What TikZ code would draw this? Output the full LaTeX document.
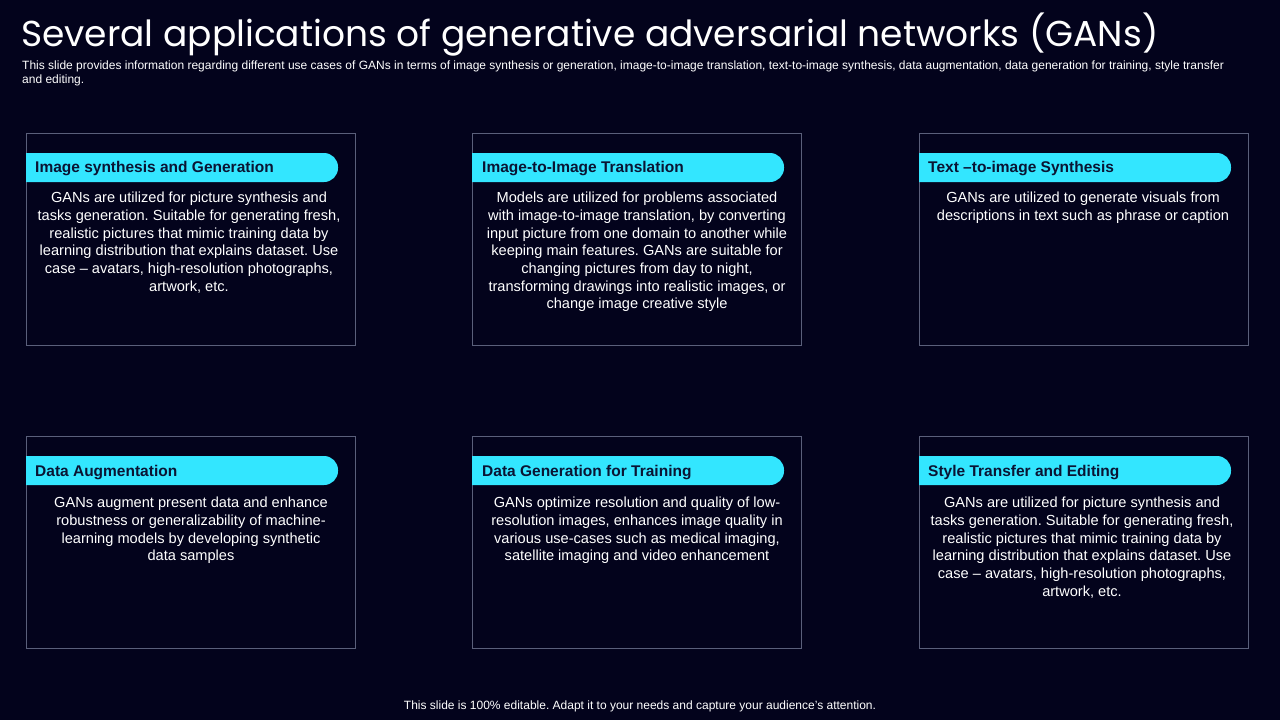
\documentclass[tikz,border=0pt]{standalone}
\usepackage{fontspec}
\setmainfont{Liberation Sans}
\newfontfamily\titlefont{Poppins}
\definecolor{bg}{HTML}{03031C}
\definecolor{cyanp}{HTML}{33E6FF}
\definecolor{boxline}{HTML}{5A5F7A}
\definecolor{navy}{HTML}{0A1433}
\frenchspacing
\begin{document}
\begin{tikzpicture}[x=1pt,y=-1pt,
  card/.style={draw=boxline,line width=0.8pt},
  pill/.style={fill=cyanp,rounded corners=14pt},
  head/.style={anchor=west,text=navy,font=\bfseries\fontsize{15.5}{18}\selectfont,inner sep=0pt},
  body/.style={anchor=north,align=center,text=white,font=\fontsize{14.6}{17.7}\selectfont,inner sep=0pt}]
\fill[bg] (0,0) rectangle (1280,720);
\useasboundingbox (0,0) rectangle (1280,720);
\node[anchor=west,text=white,font=\titlefont\fontsize{36}{40}\selectfont,inner sep=0pt] (title) at (21,35) {Several applications of generative adversarial networks (GANs)};
\node[anchor=north west,text=white,align=left,font=\fontsize{12}{14}\selectfont,inner sep=0pt] (sub) at (22,61) {This slide provides information regarding different use cases of GANs in terms of image synthesis or generation, image-to-image translation, text-to-image synthesis, data augmentation, data generation for training, style transfer\\and editing.};
\foreach \x/\y/\n in {26/133/a,472/133/b,919/133/c,26/436/d,472/436/e,919/436/f}{
  \draw[card] (\x,\y) rectangle ++(329,212);
  \fill[pill] (\x,\y+20) -- ++(-14,0) -- ++(0,29) -- ++(326,0) -- ++(0,-29) -- cycle;
  \fill[bg] (\x-15,\y+19) rectangle (\x-0.4,\y+50);
}
\node[head] (ha) at (35,169) {Image synthesis  and Generation};
\node[head] (hb) at (482,169) {Image-to-Image Translation};
\node[head] (hc) at (928,169) {Text –to-image Synthesis};
\node[head] (hd) at (35,473) {Data Augmentation};
\node[head] (he) at (482,473) {Data Generation for Training};
\node[head] (hf) at (928,473) {Style Transfer and Editing};
\node[body] (ba) at (189,192) {GANs are utilized for picture synthesis and\\tasks generation. Suitable for generating fresh,\\realistic pictures that mimic training data by\\learning distribution that explains dataset. Use\\case – avatars, high-resolution photographs,\\artwork, etc.};
\node[body] (bb) at (637,192) {Models are utilized for problems associated\\with image-to-image translation, by converting\\input picture from one domain to another while\\keeping main features. GANs are suitable for\\changing pictures from day to night,\\transforming drawings into realistic images, or\\change image creative style};
\node[body] (bc) at (1083,192) {GANs are utilized to generate visuals from\\descriptions in text such as phrase or caption};
\node[body] (bd) at (191,497) {GANs augment present data and enhance\\robustness or generalizability of machine-\\learning models by developing synthetic\\data samples};
\node[body] (be) at (637,497) {GANs optimize resolution and quality of low-\\resolution images, enhances image quality in\\various use-cases such as medical imaging,\\satellite imaging and video enhancement};
\node[body] (bf) at (1082,497) {GANs are utilized for picture synthesis and\\tasks generation. Suitable for generating fresh,\\realistic pictures that mimic training data by\\learning distribution that explains dataset. Use\\case – avatars, high-resolution photographs,\\artwork, etc.};
\node[text=white,font=\fontsize{12}{13}\selectfont,inner sep=0pt] (foot) at (640,706) {This slide is 100\% editable. Adapt it to your needs and capture your audience's attention.};
\end{tikzpicture}
\end{document}
